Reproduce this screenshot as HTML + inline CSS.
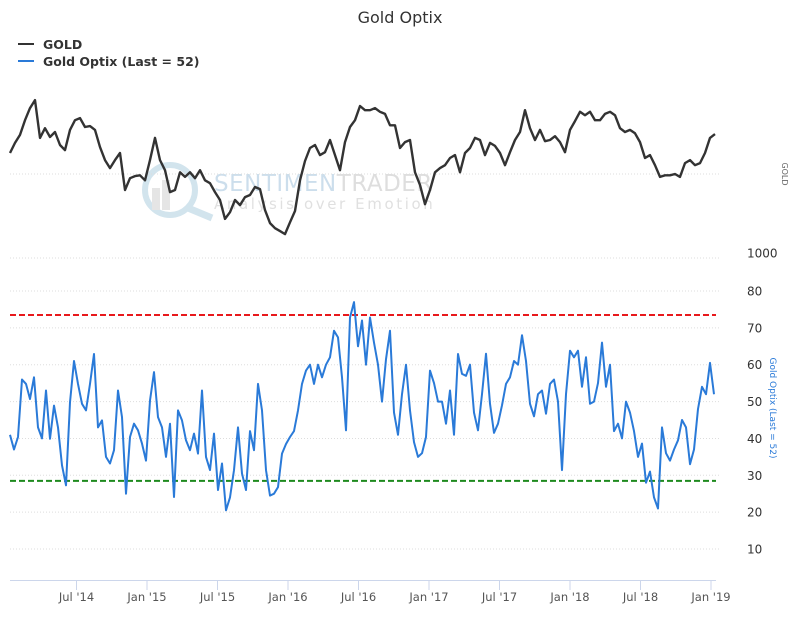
<!DOCTYPE html>
<html><head><meta charset="utf-8"><style>
body{margin:0;background:#fff;}
svg{display:block;font-family:"DejaVu Sans","Liberation Sans",sans-serif;}
</style></head><body>
<svg id="chart" width="800" height="618" viewBox="0 0 800 618" xmlns="http://www.w3.org/2000/svg">
<rect width="800" height="618" fill="#fff"/>
<text x="400" y="23" text-anchor="middle" font-size="16" fill="#333">Gold Optix</text>
<g>
<g><line x1="18" y1="44" x2="34" y2="44" stroke="#333" stroke-width="2"/><text x="43" y="49" font-size="12.5" font-weight="bold" fill="#333">GOLD</text></g>
<g><line x1="18" y1="61" x2="34" y2="61" stroke="#2a7ad8" stroke-width="2"/><text x="43" y="66" font-size="12.5" font-weight="bold" fill="#333">Gold Optix (Last = 52)</text></g>
</g>
<g opacity="0.75">
<circle cx="170" cy="190" r="25" fill="none" stroke="#c4dce8" stroke-width="6"/>
<line x1="188" y1="208" x2="212" y2="218" stroke="#c4dce8" stroke-width="7"/>
<rect x="152" y="188" width="8" height="22" fill="#ddd"/><rect x="162" y="180" width="8" height="30" fill="#ddd"/>
<text x="214" y="191" font-size="23" fill="#bcd3e6" letter-spacing="0.5">SENTIMEN<tspan fill="#d3d3d3">TRADER</tspan></text>
<text x="214" y="209" font-size="15" fill="#d6d6d6" letter-spacing="2.6">Analysis over Emotion</text>
</g>
<g id="grid"></g>
<g id="axes"></g>
<g id="series"></g>
<text transform="translate(782,174) rotate(90)" text-anchor="middle" font-size="8" fill="#666">GOLD</text>
<text transform="translate(770,408) rotate(90)" text-anchor="middle" font-size="9" fill="#2a7ad8">Gold Optix (Last = 52)</text>
</svg>
<script>
const goldValues=[1250,1274,1293,1328,1357,1376,1286,1309,1288,1300,1269,1257,1305,1328,1333,1312,1314,1305,1264,1233,1214,1233,1250,1162,1190,1195,1197,1185,1233,1286,1233,1209,1157,1162,1204,1193,1204,1190,1209,1185,1178,1157,1138,1093,1109,1138,1126,1145,1150,1169,1164,1114,1083,1071,1064,1057,1085,1112,1185,1231,1262,1269,1245,1252,1281,1245,1209,1276,1312,1328,1362,1352,1352,1357,1348,1343,1316,1316,1262,1276,1281,1204,1174,1128,1162,1204,1214,1221,1238,1245,1204,1250,1262,1286,1281,1245,1274,1267,1250,1221,1252,1281,1300,1352,1309,1281,1305,1278,1281,1290,1276,1252,1305,1326,1348,1340,1348,1328,1328,1343,1348,1340,1309,1300,1305,1297,1276,1238,1245,1221,1193,1197,1197,1200,1193,1226,1233,1221,1226,1250,1286,1295];
const optixValues=[41,37,40.4,56,54.8,50.7,56.6,43,40,53,39.9,48.9,43,32.7,27.3,49.8,61,54.8,49.4,47.6,54.8,62.9,43,44.9,35,33.2,36.8,53,45.8,25,40.4,44,42.2,38.6,34,50.3,58,45.8,43,35,44,24.1,47.6,44.9,39.5,36.8,41.3,35.9,53,35,31.4,41.3,26,33.2,20.5,24,31.4,43,30.5,26,42,36.8,54.8,47.6,31.4,24.5,25,26.8,35.9,38.5,40.4,42,47.6,54.8,58.4,60,54.8,60,56.6,60,62,69.2,67.4,56.6,42.2,72.8,77,65,72,60,
72.8,66,60,50,61.5,69.2,47,41,52,60,47.6,39,35,36,40.4,58.4,55,50,50,44,53,41,62.9,57.5,57,60,47,42.2,52,63,49.4,41.5,44,49,54.8,56.6,61,60,68,61,49.4,46,52,53,46.7,54.8,56,50,31.4,52,63.8,62,63.8,54,62,49.4,50,55,66,54,60,42,44,40,50,47,42,35,38.6,28,31,24,21,43,36,34,37,39.5,45,43,33,37,48,54,52,60.5,52];
const xTickLabels=["Jul '14","Jan '15","Jul '15","Jan '16","Jul '16","Jan '17","Jul '17","Jan '18","Jul '18","Jan '19"];
const xTickYears=[2014.5,2015,2015.5,2016,2016.5,2017,2017.5,2018,2018.5,2019];
const optixTicks=[10,20,30,40,50,60,70,80];
const goldTicks=[1000,1200];
const goldTickLabels=["1000",""];
const thresholds=[73.5,28.5];
const startYear=2014+4/141, goldStepYears=5/141, optixStepYears=4/141;

const NS="http://www.w3.org/2000/svg";
const X0=6, PX_PER_YEAR=141;
const xScale=t=>X0+(t-2014)*PX_PER_YEAR;
const yOptix=v=>291+(80-v)*3.686;
const yGold=v=>258-(v-1000)*0.42;
function mk(tag,attrs,parent){const e=document.createElementNS(NS,tag);for(const k in attrs)e.setAttribute(k,attrs[k]);parent.appendChild(e);return e;}
const grid=document.getElementById('grid'),axes=document.getElementById('axes'),series=document.getElementById('series');
optixTicks.forEach(v=>{
  const l=mk('line',{x1:10,x2:719,y1:yOptix(v),y2:yOptix(v),stroke:'#ddd','stroke-width':1,'stroke-dasharray':'1,2'},grid);
  
  
  const t=mk('text',{x:747,y:yOptix(v)+4.5,'text-anchor':'start','font-size':12,fill:'#333'},axes);
  t.textContent=v;
  
  
});
goldTicks.forEach((v,i)=>{
  const l=mk('line',{x1:10,x2:719,y1:yGold(v),y2:yGold(v),stroke:'#ddd','stroke-width':1,'stroke-dasharray':'1,2'},grid);
  
  
  if(goldTickLabels[i]){
    const t=mk('text',{x:747,y:yGold(v)-0.5,'text-anchor':'start','font-size':12,fill:'#333'},axes);
    t.textContent=goldTickLabels[i];
    
    
  }
});
const ax=mk('line',{x1:10,x2:716,y1:580.5,y2:580.5,stroke:'#ccd6eb','stroke-width':1},axes);


xTickYears.forEach((yr,i)=>{
  const x=xScale(yr);
  const tk=mk('line',{x1:x,x2:x,y1:580,y2:590,stroke:'#ccd6eb'},axes);
  
  
  const t=mk('text',{x:x,y:601,'text-anchor':'middle','font-size':11.5,fill:'#555'},axes);
  t.textContent=xTickLabels[i];
  
  
});
const thColors=['#e8191c','#1e8a1e'];
thresholds.forEach((v,i)=>{
  const l=mk('line',{x1:10,x2:716,y1:yOptix(v),y2:yOptix(v),stroke:thColors[i],'stroke-width':2,'stroke-dasharray':'6,3'},series);
  
  
});
const gd=goldValues.map((v,i)=>(i?'L':'M')+xScale(startYear+i*goldStepYears).toFixed(1)+','+yGold(v).toFixed(1)).join('');
const gp=mk('path',{d:gd,fill:'none',stroke:'#333','stroke-width':2.4,'stroke-linejoin':'round'},series);


const od=optixValues.map((v,i)=>(i?'L':'M')+xScale(startYear+i*optixStepYears).toFixed(1)+','+yOptix(v).toFixed(1)).join('');
const op=mk('path',{d:od,fill:'none',stroke:'#2a7ad8','stroke-width':2,'stroke-linejoin':'round'},series);


</script>
</body></html>
